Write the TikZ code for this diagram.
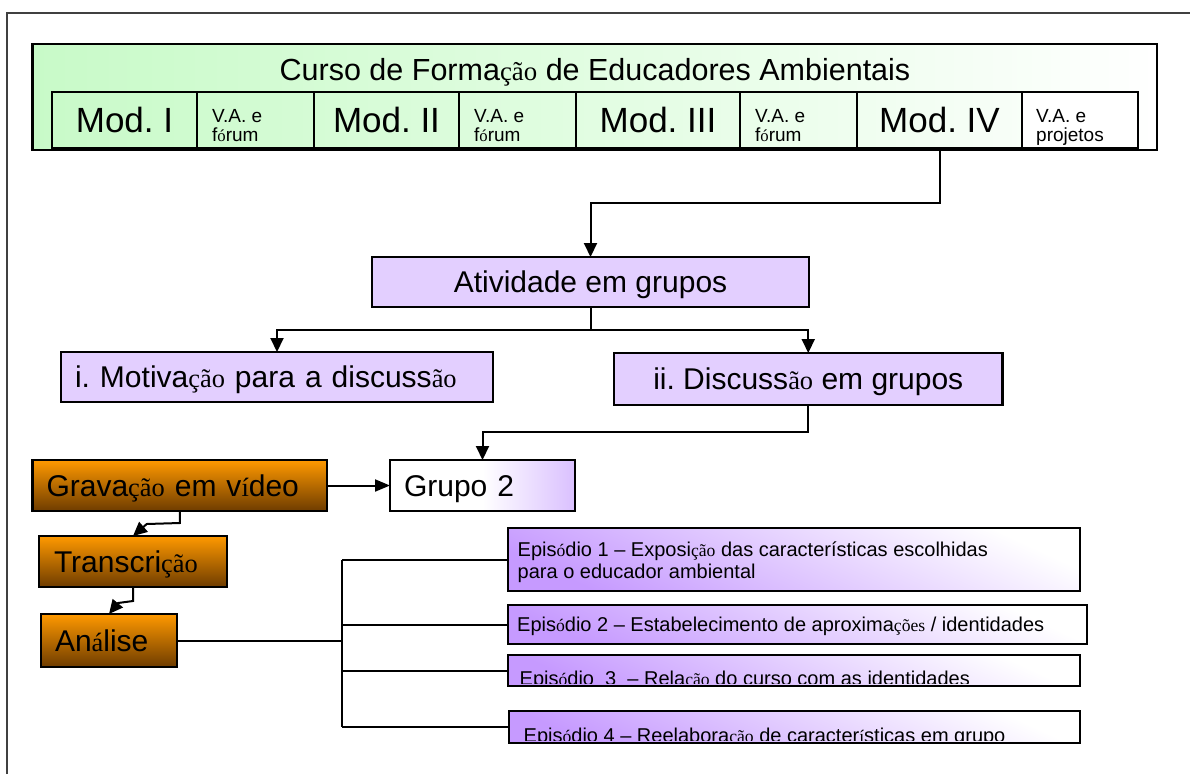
\documentclass[tikz,border=0pt]{standalone}
\usepackage{fontspec}
\setmainfont{Liberation Sans}
\newfontfamily\fbfam[Scale=0.88]{Liberation Serif}
\newcommand{\fbx}[1]{{\fbfam #1}}
\newcommand{\fsz}[1]{\fontsize{#1}{#1}\selectfont\frenchspacing}
\usetikzlibrary{arrows.meta}
\definecolor{lav}{RGB}{227,207,255}
\definecolor{epurp}{RGB}{198,154,255}
\definecolor{gpurp}{RGB}{218,192,255}
\definecolor{cgreen}{RGB}{200,250,200}
\definecolor{cgmid}{RGB}{226,253,226}
\definecolor{otop}{RGB}{255,153,0}
\definecolor{obot}{RGB}{110,60,0}
\begin{document}
\frenchspacing
\begin{tikzpicture}[x=1pt,y=-1pt,
  bx/.style={draw=black, line width=2.2pt, inner sep=0pt, outer sep=0pt},
  lbox/.style={bx, align=left, inner xsep=14pt},
  big/.style={font=\fsz{30}, text height=21.5pt, text depth=0pt},
  modt/.style={font=\fsz{35}, text height=25pt, text depth=0pt},
  vat/.style={font=\fsz{19}, align=left, inner sep=0pt},
  ept/.style={font=\fsz{20}, inner sep=0pt, anchor=base west},
  lavb/.style={fill=lav},
  org/.style={top color=otop, bottom color=obot},
  epb/.style={bx, top color=white, bottom color=epurp, shading angle=-25},
  conn/.style={line width=2pt, draw=black},
  arr/.style={conn, -{Triangle[length=14pt,width=13pt]}},
  frame/.style={line width=2pt, draw=black!75}]
\useasboundingbox (0,0) rectangle (1190,774);
\fill[white] (0,0) rectangle (1190,774);
\draw[frame] (7,774) -- (7,13) -- (1190,13);

% course box
\node[bx, left color=cgreen, right color=white, middle color=cgmid,
      minimum width=1124.5pt, minimum height=106pt] (course) at (594.75,97) {};
\node[anchor=base, font=\fsz{30.5}, inner sep=0pt] (title) at (595,80)
  {Curso de Forma\fbx{ção} de Educadores Ambientais};

% modules
\node[bx, modt, minimum width=145pt, minimum height=56pt] (mod1) at (124.5,120) {Mod. I};
\node[bx, minimum width=117pt, minimum height=56pt] (va1) at (255.5,120) {};
\node[vat, anchor=north west] (va1t) at (212,109.4) {V.A. e\\f\fbx{ó}rum};
\node[bx, modt, minimum width=145pt, minimum height=56pt] (mod2) at (386.5,120) {Mod. II};
\node[bx, minimum width=117pt, minimum height=56pt] (va2) at (517.5,120) {};
\node[vat, anchor=north west] (va2t) at (474,109.4) {V.A. e\\f\fbx{ó}rum};
\node[bx, modt, minimum width=164pt, minimum height=56pt] (mod3) at (658,120) {Mod. III};
\node[bx, minimum width=117pt, minimum height=56pt] (va3) at (798.5,120) {};
\node[vat, anchor=north west] (va3t) at (755,109.4) {V.A. e\\f\fbx{ó}rum};
\node[bx, modt, minimum width=165pt, minimum height=56pt] (mod4) at (939.5,120) {Mod. IV};
\node[bx, fill=white, minimum width=116pt, minimum height=56pt] (va4) at (1080,120) {};
\node[vat, anchor=north west] (va4t) at (1036,109.4) {V.A. e\\projetos};

% activity level
\node[bx, lavb, big, minimum width=437pt, minimum height=50pt] (atv) at (590.5,282) {Atividade em grupos};
\node[lbox, lavb, big, text width=404pt, minimum height=50pt] (mot) at (277,377)
  {i. Motiva\fbx{ção} para a discuss\fbx{ão}};
\node[bx, lavb, big, minimum width=388.5pt, minimum height=52pt] (disc) at (808.25,379)
  {ii. Discuss\fbx{ão} em grupos};

% group / process
\node[lbox, big, left color=white, right color=gpurp, middle color=white,
      text width=157pt, minimum height=51pt] (grp) at (482.5,485.5) {Grupo 2};
\node[lbox, org, big, text width=266.5pt, minimum height=51pt] (grav) at (179.75,485.5)
  {Grava\fbx{ção} em v\fbx{í}deo};
\node[lbox, org, big, inner xsep=15pt, text width=158pt, minimum height=51pt] (trans) at (133,561.5)
  {Transcri\fbx{ção}};
\node[lbox, org, big, text width=108pt, minimum height=53pt] (anl) at (109,640.5)
  {An\fbx{á}lise};

% episodes
\node[epb, minimum width=572pt, minimum height=63pt] (ep1) at (794,559.5) {};
\node[ept] (ep1a) at (517.5,556) {Epis\fbx{ó}dio 1 – Exposi\fbx{ção} das características escolhidas};
\node[ept] (ep1b) at (517.5,578) {para o educador ambiental};
\node[epb, minimum width=579pt, minimum height=39pt] (ep2) at (797.5,624.5) {};
\node[ept] (ep2t) at (517,631.5) {Epis\fbx{ó}dio 2 – Estabelecimento de aproxima\fbx{ções} / identidades};
\node[epb, minimum width=572pt, minimum height=31pt] (ep3) at (794,670.5) {};
\begin{scope}
  \clip (508,655) rectangle (1080,683.5);
  \node[ept] (ep3t) at (519.5,685) {Epis\fbx{ó}dio \ 3 \ – Rela\fbx{ção} do curso com as identidades};
\end{scope}
\node[bx, minimum width=572pt, minimum height=31pt] (ep3f) at (794,670.5) {};
\node[epb, minimum width=571pt, minimum height=32pt] (ep4) at (794.5,727) {};
\begin{scope}
  \clip (509,711) rectangle (1080,740.5);
  \node[ept] (ep4t) at (523.5,742) {Epis\fbx{ó}dio 4 – Reelabora\fbx{ção} de caracter\fbx{í}sticas em grupo};
\end{scope}
\node[bx, minimum width=571pt, minimum height=32pt] (ep4f) at (794.5,727) {};

% connectors
\draw[arr] (mod4.south) -- ++(0,55) -| (atv.north);
\draw[arr] (atv.south) -- ++(0,23) -| (mot.north);
\draw[arr] (atv.south) -- ++(0,23) -| (disc.north);
\draw[arr] (disc.south) -- ++(0,27) -| (grp.north);
\draw[arr, -{Triangle[length=15pt,width=12pt]}] (grav.east) -- (grp.west);
\draw[arr] (grav.south) -- ++(0,12) -- ++(-33,1) -- (trans.north);
\draw[arr] (trans.south) -- ++(0,14) -- ++(-15,2) -- (anl.north);

\coordinate (b1) at (342,559.5);
\coordinate (b4) at (342,727);
\draw[conn] (anl.east) -- (anl.east -| b1);
\draw[conn] (b1) -- (b4);
\draw[conn] (b1) -- (ep1.west);
\draw[conn] (ep2.west -| b1) -- (ep2.west);
\draw[conn] (ep3.west -| b1) -- (ep3.west);
\draw[conn] (b4) -- (ep4.west);
\end{tikzpicture}
\end{document}
